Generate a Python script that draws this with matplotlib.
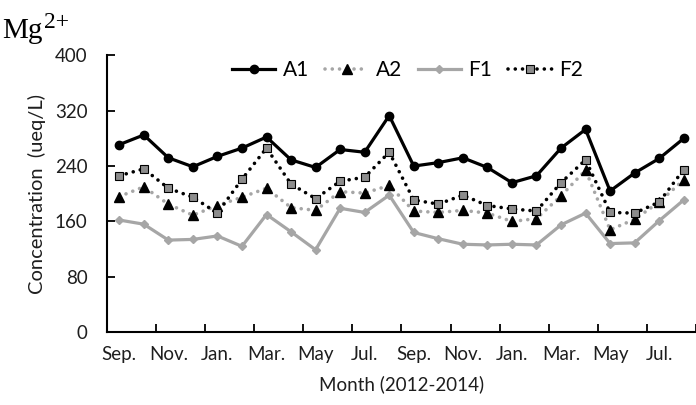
import matplotlib
matplotlib.use("Agg")
import matplotlib.pyplot as plt
import numpy as np

plt.rcParams['font.family'] = ['Lato', 'DejaVu Sans']

# Monthly Mg2+ concentrations (ueq/L), Sep 2012 - Aug 2014
months = ["Sep.", "Oct.", "Nov.", "Dec.", "Jan.", "Feb.", "Mar.", "Apr.", "May", "Jun.", "Jul.", "Aug.",
          "Sep.", "Oct.", "Nov.", "Dec.", "Jan.", "Feb.", "Mar.", "Apr.", "May", "Jun.", "Jul.", "Aug."]
a1 = [271, 285, 252, 239, 254, 266, 282, 249, 238, 264, 260, 313,
      240, 245, 252, 238, 216, 226, 266, 293, 204, 230, 251, 280]
a2 = [196, 210, 185, 169, 183, 195, 208, 180, 176, 203, 201, 212,
      175, 173, 176, 172, 160, 164, 197, 234, 148, 163, 188, 220]
f1 = [162, 156, 133, 134, 139, 124, 170, 145, 119, 179, 173, 198,
      144, 135, 127, 126, 127, 126, 155, 172, 128, 129, 161, 191]
f2 = [226, 236, 208, 195, 172, 221, 266, 214, 193, 218, 224, 260,
      191, 185, 198, 183, 178, 175, 216, 249, 173, 172, 188, 235]
yticks = [0, 80, 160, 240, 320, 400]

x = np.arange(len(months))

fig = plt.figure(figsize=(6.96, 4.05), dpi=100)
ax = fig.add_axes([0.1537, 0.180, 0.8463, 0.6832])

gray_line = "#a6a6a6"
dots = (0, (0.01, 2.0))
text_col = "#1e1e1e"

ax.plot(x, a1, color="black", lw=2.3, marker="o", ms=6, mfc="black", mec="black", label="A1", zorder=5)
ax.plot(x, a2, color=gray_line, lw=2.6, linestyle=dots, dash_capstyle="round",
        marker="^", ms=7, mfc="black", mec="black", label="A2", zorder=3)
ax.plot(x, f1, color=gray_line, lw=2.3, marker="D", ms=4, mfc=gray_line, mec=gray_line, label="F1", zorder=2)
ax.plot(x, f2, color="black", lw=2.6, linestyle=dots, dash_capstyle="round",
        marker="s", ms=6, mfc="#8c8c8c", mec="black", mew=0.8, label="F2", zorder=4)

ax.set_xlim(-0.5, len(months) - 0.5)
ax.set_ylim(0, 400)
ax.set_yticks(yticks)
ax.set_yticklabels([str(v) for v in yticks])

# tick marks between every two months, labels on the odd months
ax.set_xticks(np.arange(1.5, len(months), 2))
ax.set_xticklabels([])
ax.set_xticks(x[::2], minor=True)
ax.set_xticklabels(months[::2], minor=True)
ax.tick_params(axis="x", which="major", direction="in", length=6, width=1.3)
ax.tick_params(axis="x", which="minor", length=0, labelsize=13.5, pad=10, labelcolor=text_col)
ax.tick_params(axis="y", direction="in", length=6, width=1.3, labelsize=13.5, pad=14, labelcolor=text_col)

for side in ("top", "right"):
    ax.spines[side].set_visible(False)
for side in ("left", "bottom"):
    ax.spines[side].set_linewidth(1.5)

ax.set_xlabel("Month (2012-2014)", fontsize=13.5, labelpad=9, color=text_col)
ax.set_ylabel("Concentration  (ueq/L)", fontsize=14.5, labelpad=6, color=text_col)

ax.legend(loc="center", bbox_to_anchor=(0.51, 0.948), ncol=4, frameon=False, fontsize=15,
          handlelength=2.1, columnspacing=0.75, handletextpad=0.35, borderaxespad=0)

# ion label: "Mg" with a raised "2+"
ion = fig.text(0.003, 0.905, "Mg", fontsize=21, family="Liberation Serif", va="baseline", ha="left")
fig.canvas.draw()
bb = ion.get_window_extent(renderer=fig.canvas.get_renderer())
fig.text(bb.x1 / fig.bbox.width + 0.002, 0.932, "2+", fontsize=17,
         family="Liberation Serif", va="baseline", ha="left")

fig.savefig("out.png", dpi=100)
